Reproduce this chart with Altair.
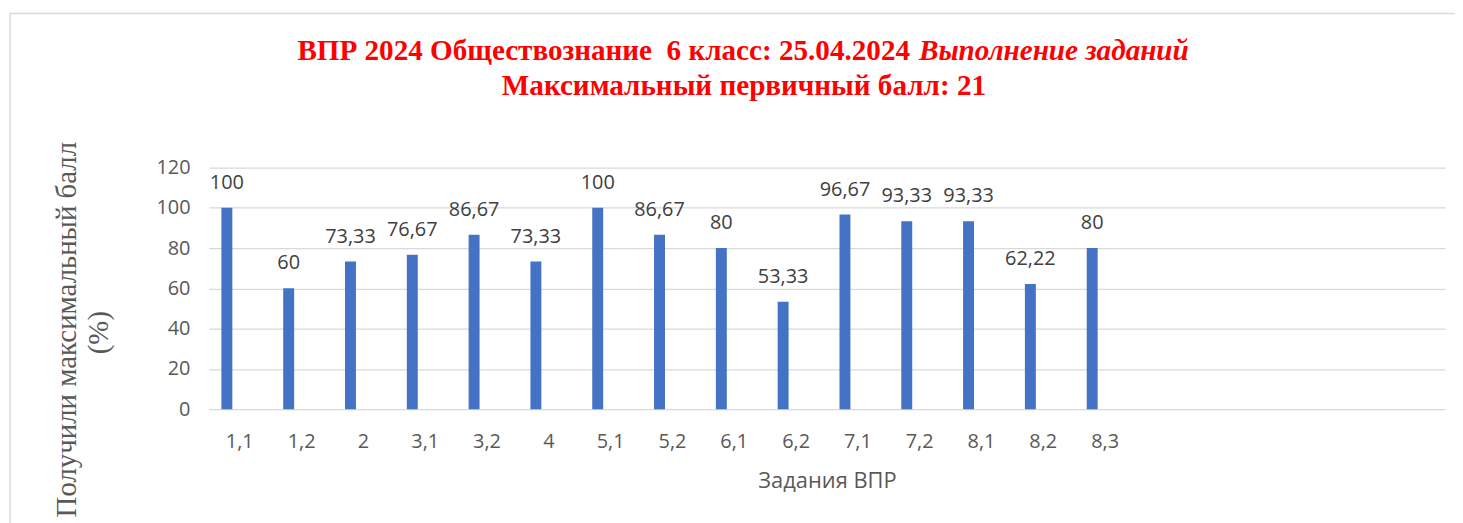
import altair as alt
import pandas as pd

categories = ["1,1", "1,2", "2", "3,1", "3,2", "4", "5,1", "5,2", "6,1", "6,2",
              "7,1", "7,2", "8,1", "8,2", "8,3"]
values = [100, 60, 73.33, 76.67, 86.67, 73.33, 100, 86.67, 80, 53.33,
          96.67, 93.33, 93.33, 62.22, 80]
empty_slots = [" ", "  ", "   ", "    ", "     "]
y_ticks = [0, 20, 40, 60, 80, 100, 120]

title_main = "ВПР 2024 Обществознание\u00a0 6 класс: 25.04.2024"
title_italic = "Выполнение заданий"
title_line2 = "Максимальный первичный балл: 21"
y_title_1 = "Получили максимальный балл"
y_title_2 = "(%)"
x_title = "Задания ВПР"

df = pd.DataFrame({"task": categories, "value": values})
one = pd.DataFrame({"a": [0]})

W, H = 1243, 243
TXT = "#595959"
FONT = "Open Sans"
SERIF = "Liberation Serif"
domain = categories + empty_slots

x_enc = alt.X(
    "task:N",
    sort=domain,
    scale=alt.Scale(domain=domain, paddingInner=0, paddingOuter=0),
    axis=alt.Axis(
        title=x_title, labelAngle=0, domain=False, ticks=False, tickSize=0,
        grid=False, labelFont=FONT, labelFontSize=20, labelColor=TXT,
        labelBaseline="alphabetic", labelPadding=39,
        titleFont=FONT, titleFontSize=22, titleFontWeight="normal", titleColor=TXT,
        titleBaseline="alphabetic", titleX=W / 2, titleY=79, titleAlign="center",
    ),
)
y_enc = alt.Y(
    "value:Q",
    scale=alt.Scale(domain=[0, 120], nice=False),
    axis=alt.Axis(
        values=y_ticks, title=None, domain=False, ticks=False, tickSize=0,
        labelFont=FONT, labelFontSize=20, labelColor=TXT, labelPadding=19,
        gridColor="#d9d9d9", gridWidth=1.3,
    ),
)

bars = alt.Chart(df).mark_bar(width=11, xOffset=-13, color="#4472C4").encode(x=x_enc, y=y_enc)

labels = alt.Chart(df).transform_calculate(
    lab="replace(format(datum.value, '.2~f'), '.', ',')"
).mark_text(
    dx=-13, dy=-19, baseline="alphabetic", align="center",
    font=FONT, fontSize=20, color="#404040"
).encode(x=x_enc, y=y_enc, text="lab:N")

border = alt.Chart(one).mark_rect(fill=None, stroke="#d9d9d9", strokeWidth=1.5).encode(
    x=alt.value(-200), x2=alt.value(1400), y=alt.value(-155), y2=alt.value(600)
)

t1 = alt.Chart(one).mark_text(
    align="right", baseline="alphabetic", font=SERIF, fontSize=29.3,
    fontWeight="bold", color="#FF0000"
).encode(x=alt.value(705), y=alt.value(-108), text=alt.value(title_main))

t2 = alt.Chart(one).mark_text(
    align="left", baseline="alphabetic", font=SERIF, fontSize=29.3,
    fontWeight="bold", fontStyle="italic", color="#FF0000"
).encode(x=alt.value(714), y=alt.value(-108), text=alt.value(title_italic))

t3 = alt.Chart(one).mark_text(
    align="center", baseline="alphabetic", font=SERIF, fontSize=29.3,
    fontWeight="bold", color="#FF0000"
).encode(x=alt.value(538), y=alt.value(-73), text=alt.value(title_line2))

yt1 = alt.Chart(one).mark_text(
    align="center", baseline="alphabetic", font=SERIF, fontSize=29,
    angle=270, color=TXT
).encode(x=alt.value(-134), y=alt.value(163), text=alt.value(y_title_1))

yt2 = alt.Chart(one).mark_text(
    align="center", baseline="alphabetic", font=SERIF, fontSize=29,
    angle=270, color=TXT
).encode(x=alt.value(-101), y=alt.value(166), text=alt.value(y_title_2))

chart = alt.layer(border, bars, labels, t1, t2, t3, yt1, yt2).properties(
    width=W, height=H,
    autosize=alt.AutoSizeParams(type="none"),
    padding={"left": 202, "top": 159, "right": 10, "bottom": 113},
).configure(
    background="white",
    view=alt.ViewConfig(stroke=None),
)

chart.save("out.html", embed_options={"renderer": "svg", "actions": False})
